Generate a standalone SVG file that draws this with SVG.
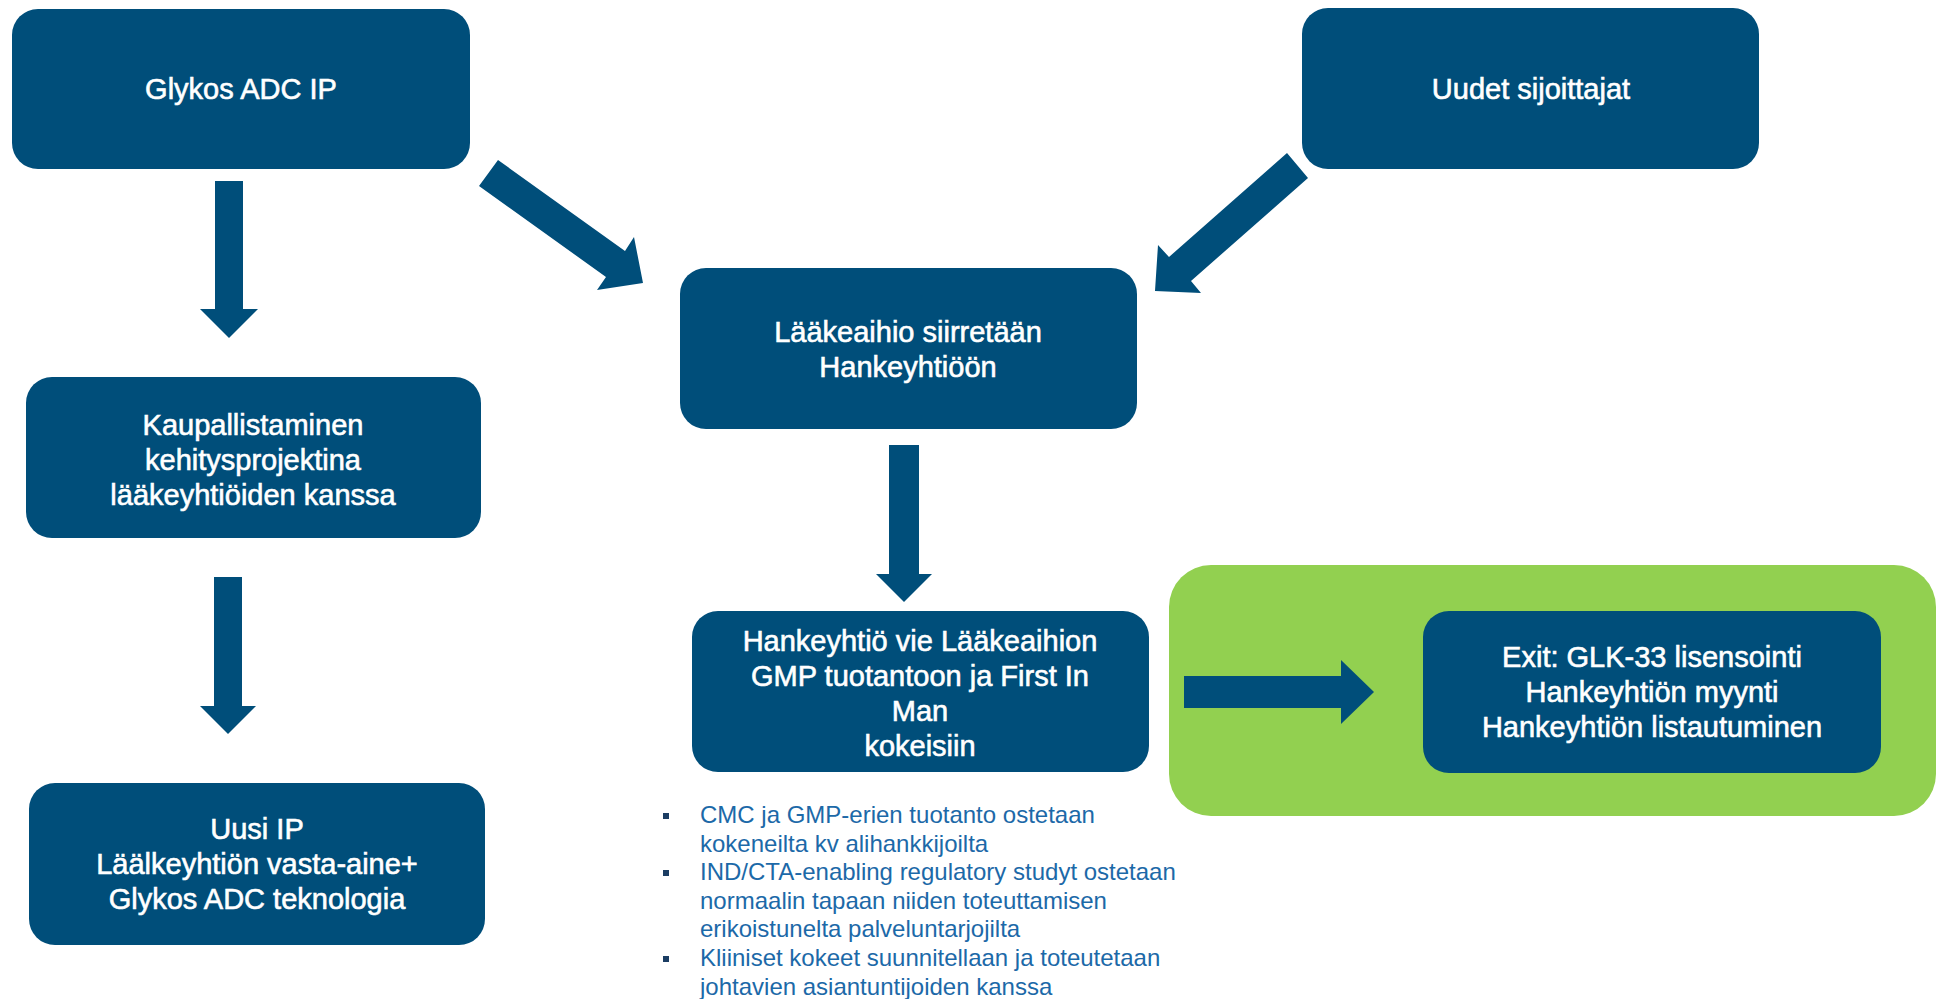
<svg xmlns="http://www.w3.org/2000/svg" width="1939" height="999" viewBox="0 0 1939 999">
  <style>
    .box { fill: #004E7A; }
    .green { fill: #92D050; }
    .arrow { fill: #004E7A; }
    .t { font-family: "Liberation Sans", Arial, Helvetica, sans-serif; font-size: 29px; fill: #FFFFFF; stroke: #FFFFFF; stroke-width: 0.6px; text-anchor: middle; }
    .b { font-family: "Liberation Sans", Arial, Helvetica, sans-serif; font-size: 24px; fill: #1C69A8; }
    .sq { fill: #1B3D63; }
  </style>
  <rect width="1939" height="999" fill="#FFFFFF"/>

  <g id="exit-area">
    <rect class="green" x="1169" y="565" width="767" height="251" rx="42" ry="42"/>
  </g>

  <g id="connectors">
    <polygon class="arrow" points="215,181 243,181 243,309 258,309 229,338 200,309 215,309"/>
    <polygon class="arrow" points="214,577 242,577 242,706 256,706 228,734 200,706 214,706"/>
    <polygon class="arrow" points="889,445 919,445 919,574 932,574 904,602 876,574 889,574"/>
    <polygon class="arrow" points="498,160 625,251 634,237 643,283 597,290 606,277 479,186"/>
    <polygon class="arrow" points="1287,153 1169,257 1158,245 1155,291 1201,293 1191,281 1308,178"/>
    <polygon class="arrow" points="1184,676 1341,676 1341,660 1374,692 1341,724 1341,708 1184,708"/>
  </g>

  <g id="glykos-adc-ip">
    <rect class="box" x="12" y="9" width="458" height="160" rx="26" ry="26"/>
    <text class="t" x="241" y="99">Glykos ADC IP</text>
  </g>

  <g id="uudet-sijoittajat">
    <rect class="box" x="1302" y="8" width="457" height="161" rx="26" ry="26"/>
    <text class="t" x="1531" y="99">Uudet sijoittajat</text>
  </g>

  <g id="laakeaihio">
    <rect class="box" x="680" y="268" width="457" height="161" rx="26" ry="26"/>
    <text class="t" x="908" y="342">Lääkeaihio siirretään</text>
    <text class="t" x="908" y="377">Hankeyhtiöön</text>
  </g>

  <g id="kaupallistaminen">
    <rect class="box" x="26" y="377" width="455" height="161" rx="26" ry="26"/>
    <text class="t" x="253" y="435">Kaupallistaminen</text>
    <text class="t" x="253" y="470">kehitysprojektina</text>
    <text class="t" x="253" y="505">lääkeyhtiöiden kanssa</text>
  </g>

  <g id="uusi-ip">
    <rect class="box" x="29" y="783" width="456" height="162" rx="26" ry="26"/>
    <text class="t" x="257" y="839">Uusi IP</text>
    <text class="t" x="257" y="874">Läälkeyhtiön vasta-aine+</text>
    <text class="t" x="257" y="909">Glykos ADC teknologia</text>
  </g>

  <g id="hankeyhtio">
    <rect class="box" x="692" y="611" width="457" height="161" rx="26" ry="26"/>
    <text class="t" x="920" y="651">Hankeyhtiö vie Lääkeaihion</text>
    <text class="t" x="920" y="686">GMP tuotantoon ja First In</text>
    <text class="t" x="920" y="721">Man</text>
    <text class="t" x="920" y="756">kokeisiin</text>
  </g>

  <g id="exit">
    <rect class="box" x="1423" y="611" width="458" height="162" rx="26" ry="26"/>
    <text class="t" x="1652" y="667">Exit: GLK-33 lisensointi</text>
    <text class="t" x="1652" y="702">Hankeyhtiön myynti</text>
    <text class="t" x="1652" y="737">Hankeyhtiön listautuminen</text>
  </g>

  <g id="bullets">
    <rect class="sq" x="663" y="813" width="6" height="6"/>
    <rect class="sq" x="663" y="870" width="6" height="6"/>
    <rect class="sq" x="663" y="956" width="6" height="6"/>
    <text class="b" x="700" y="823">CMC ja GMP-erien tuotanto ostetaan</text>
    <text class="b" x="700" y="851.6">kokeneilta kv alihankkijoilta</text>
    <text class="b" x="700" y="880.2">IND/CTA-enabling regulatory studyt ostetaan</text>
    <text class="b" x="700" y="908.8">normaalin tapaan niiden toteuttamisen</text>
    <text class="b" x="700" y="937.4">erikoistunelta palveluntarjojilta</text>
    <text class="b" x="700" y="966">Kliiniset kokeet suunnitellaan ja toteutetaan</text>
    <text class="b" x="700" y="994.6">johtavien asiantuntijoiden kanssa</text>
  </g>
</svg>
